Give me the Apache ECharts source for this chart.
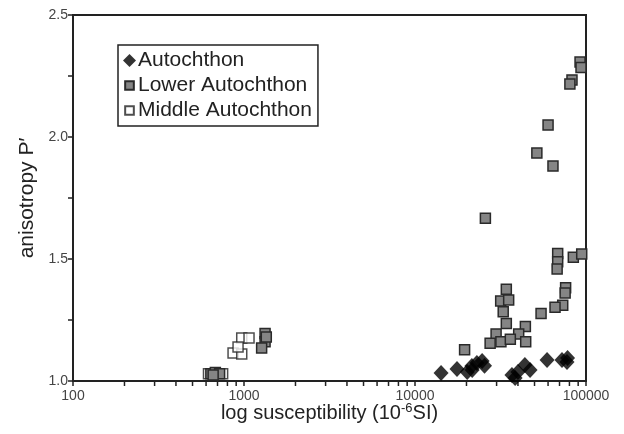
<!DOCTYPE html>
<html><head><meta charset="utf-8">
<script src="https://cdn.jsdelivr.net/npm/echarts@6/dist/echarts.min.js"></script>
<style>html,body{margin:0;padding:0;background:#fff}#c{width:624px;height:434px}</style>
</head><body><div id="c"></div>
<script>
const autochthon = [[14200,1.033],[17600,1.049],[20200,1.037],[21500,1.061],[23000,1.074],[24700,1.082],[21600,1.045],[25500,1.062],[36900,1.025],[40000,1.037],[43900,1.066],[47100,1.045],[38500,1.012],[59200,1.086],[72400,1.086],[77400,1.078],[78000,1.094]];
const lowerAutochthon = [[92300,2.307],[93500,2.285],[82800,2.234],[80500,2.217],[60000,2.049],[51600,1.934],[64100,1.881],[25800,1.667],[68300,1.523],[68300,1.489],[67800,1.459],[84300,1.507],[94400,1.520],[76000,1.382],[75500,1.361],[73100,1.310],[65900,1.302],[54600,1.277],[34200,1.376],[31700,1.328],[35300,1.332],[32800,1.284],[34200,1.236],[29800,1.193],[44200,1.223],[40400,1.193],[44400,1.161],[27500,1.155],[31800,1.161],[36100,1.171],[19500,1.128],[1328,1.195],[1328,1.161],[1268,1.135],[1350,1.18],[640,1.03],[680,1.035],[720,1.03],[660,1.025]];
const middleAutochthon = [[970,1.176],[1070,1.176],[863,1.115],[970,1.111],[923,1.139],[620,1.03],[750,1.03]];
const xMinorTicks = [200,300,400,500,600,700,800,900,2000,3000,4000,5000,6000,7000,8000,9000,20000,30000,40000,50000,60000,70000,80000,90000];
const yTickValues = [1.0,1.5,2.0,2.5];
const seriesNames = ['Autochthon','Lower Autochthon','Middle Autochthon'];

const chart = echarts.init(document.getElementById('c'), null, {renderer:'canvas'});
const font = 'Liberation Sans, Arial, Helvetica, sans-serif';
const smallSquare = 'path://M0 0M12 12M2 2H10V10H2Z';
chart.setOption({
  animation:false,
  textStyle:{fontFamily:font},
  grid:{left:73,right:38,top:15,bottom:53,show:true,borderColor:'#222',borderWidth:2,backgroundColor:'transparent'},
  legend:{
    left:118,top:45,orient:'vertical',
    data:[
      {name:seriesNames[0],icon:'diamond'},
      {name:seriesNames[1],icon:smallSquare},
      {name:seriesNames[2],icon:smallSquare}
    ],
    borderColor:'#222',borderWidth:1.5,padding:[5,6,5,4],itemGap:4,
    itemWidth:13,itemHeight:13,
    textStyle:{fontSize:21,color:'#222',fontFamily:font,padding:[0,0,0,-3]}
  },
  xAxis:{
    type:'log',logBase:10,min:100,max:100000,
    name:'log susceptibility (10{sup|-6}SI)',nameLocation:'middle',nameGap:21,nameMoveOverlap:false,
    nameTextStyle:{fontSize:20,color:'#222',rich:{sup:{fontSize:13,verticalAlign:'top',padding:[0,0,9,0],color:'#222'}}},
    axisLine:{lineStyle:{color:'#222',width:2}},
    axisTick:{show:true,length:5,inside:false,lineStyle:{color:'#222',width:1.5}},
    axisLabel:{fontSize:14,color:'#444',margin:8,formatter:v=>String(Math.round(v))},
    splitLine:{show:false}
  },
  yAxis:{
    type:'value',min:1.0,max:2.5,interval:0.25,
    name:'anisotropy P\u2032',nameLocation:'middle',nameGap:33,
    nameTextStyle:{fontSize:21,color:'#222'},
    axisLine:{show:true,lineStyle:{color:'#222',width:2}},
    axisTick:{show:true,length:5,lineStyle:{color:'#222',width:1.5}},
    axisLabel:{fontSize:14,color:'#444',margin:5,
      formatter:v=>{const r=Math.round(v*100)/100;return yTickValues.some(t=>Math.abs(t-r)<1e-6)?r.toFixed(1):'';}},
    splitLine:{show:false}
  },
  series:[
    {
      type:'custom',silent:true,clip:false,
      data:xMinorTicks.map(v=>[v,1.0]),
      renderItem:(params,api)=>{
        const p=api.coord([api.value(0),api.value(1)]);
        return {type:'line',shape:{x1:p[0],y1:p[1]+1,x2:p[0],y2:p[1]+5},style:{stroke:'#222',lineWidth:1.5}};
      },
      z:1
    },
    {
      name:seriesNames[2],type:'scatter',symbol:'rect',symbolSize:10,
      itemStyle:{color:'#fff',borderColor:'#222',borderWidth:1.5},
      data:middleAutochthon,z:2
    },
    {
      name:seriesNames[1],type:'scatter',symbol:'rect',symbolSize:10,
      itemStyle:{color:'#858585',borderColor:'#2a2a2a',borderWidth:1.5,opacity:1},
      data:lowerAutochthon,z:3
    },
    {
      name:seriesNames[0],type:'scatter',symbol:'diamond',symbolSize:[15,16],
      itemStyle:{color:'#000',borderColor:'#000',borderWidth:0},
      data:autochthon,z:4
    }
  ]
});
</script></body></html>
